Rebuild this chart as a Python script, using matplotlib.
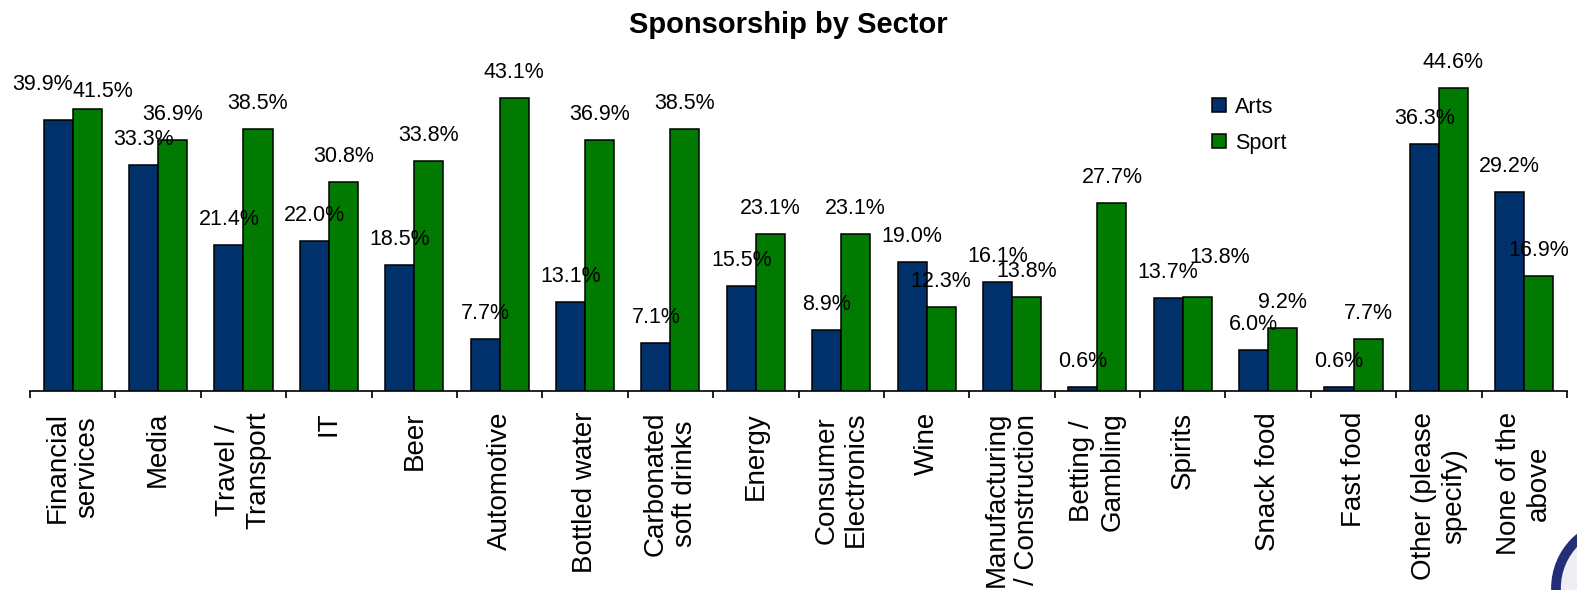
import matplotlib
matplotlib.use("Agg")
import matplotlib.pyplot as plt
import numpy as np
from matplotlib.patches import Ellipse

plt.rcParams['font.family'] = ['Liberation Sans', 'DejaVu Sans']

categories = [
    "Financial\nservices", "Media", "Travel /\nTransport", "IT", "Beer",
    "Automotive", "Bottled water", "Carbonated\nsoft drinks", "Energy",
    "Consumer\nElectronics", "Wine", "Manufacturing\n/ Construction",
    "Betting /\nGambling", "Spirits", "Snack food", "Fast food",
    "Other (please\nspecify)", "None of the\nabove",
]
arts = [39.9, 33.3, 21.4, 22.0, 18.5, 7.7, 13.1, 7.1, 15.5, 8.9, 19.0, 16.1,
        0.6, 13.7, 6.0, 0.6, 36.3, 29.2]
sport = [41.5, 36.9, 38.5, 30.8, 33.8, 43.1, 36.9, 38.5, 23.1, 23.1, 12.3,
         13.8, 27.7, 13.8, 9.2, 7.7, 44.6, 16.9]
series_names = ["Arts", "Sport"]

W, H = 1577, 590
fig = plt.figure(figsize=(W / 100, H / 100), dpi=100)
ax = fig.add_axes([30 / W, (H - 391) / H, (1567 - 30) / W, 340 / H])

x = np.arange(len(categories))
bw = 0.34
c_arts = "#00316A"
c_sport = "#007A00"
b1 = ax.bar(x - bw / 2, arts, bw, color=c_arts, edgecolor="black", linewidth=1.1,
            label=series_names[0], zorder=3)
b2 = ax.bar(x + bw / 2, sport, bw, color=c_sport, edgecolor="black", linewidth=1.1,
            label=series_names[1], zorder=3)

# label offsets (pixels): default above the bar, a few nudged as in the original
default_off = (0, 20)
special_off = {(0, 0): (-16, 30), (1, 0): (16, 12), (1, 13): (22, 34)}
for si, (vals, dx) in enumerate(((arts, -bw / 2), (sport, bw / 2))):
    for i, v in enumerate(vals):
        off = special_off.get((si, i), default_off)
        ax.annotate(f"{v:.1f}%", (x[i] + dx, v), xytext=off,
                    textcoords="offset pixels", ha="center", va="baseline",
                    fontsize=15.5, color="black", zorder=4)

ax.set_xlim(-0.5, len(categories) - 0.5)
ax.set_ylim(0, 50)
for s in ("top", "right", "left"):
    ax.spines[s].set_visible(False)
ax.spines["bottom"].set_linewidth(1.2)
ax.set_yticks([])
ax.set_xticks(x)
ax.set_xticklabels(categories, rotation=90, fontsize=20, va="top", ha="center")
ax.tick_params(axis="x", which="major", length=0, pad=15)
ax.set_xticks(np.arange(len(categories) + 1) - 0.5, minor=True)
ax.tick_params(axis="x", which="minor", length=5, width=1.2, direction="out")

fig.text(0.5, 1 - 33 / H, "Sponsorship by Sector", ha="center", va="baseline",
         fontsize=21, fontweight="bold")

leg = fig.legend(handles=[b1, b2], loc="upper left",
                 bbox_to_anchor=(1203 / W, 1 - 88 / H), frameon=False,
                 fontsize=15.5, handlelength=0.65, handleheight=0.65,
                 handletextpad=0.45, labelspacing=0.7, borderaxespad=0)

# partial logo ring at bottom-right corner
r_px = 65
ring = Ellipse((1621 / W, (H - 588) / H), 2 * r_px / W, 2 * r_px / H,
               transform=fig.transFigure, facecolor="#eeeef2",
               edgecolor="#232e78", linewidth=7, clip_on=False)
fig.patches.append(ring)

fig.savefig("out.png", dpi=100)
